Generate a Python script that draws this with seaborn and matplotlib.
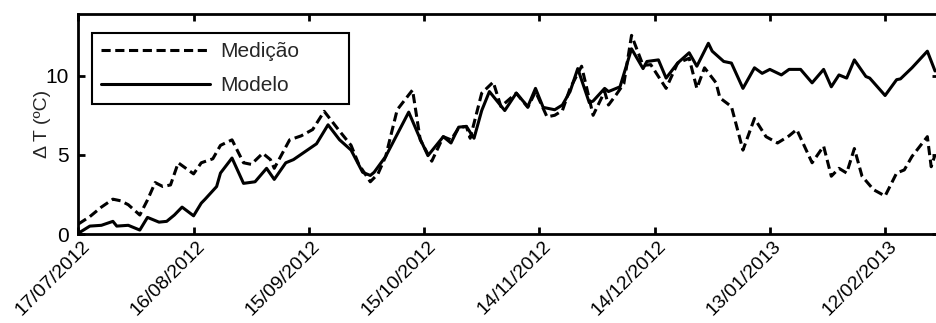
import matplotlib
matplotlib.use("Agg")
import numpy as np
import pandas as pd
import matplotlib.pyplot as plt
import matplotlib.transforms as mtransforms
import seaborn as sns

# dados (dias desde 17/07/2012)
inicio = "2012-07-17"

dias_medicao = [0, 3, 6, 9, 11, 13, 16, 18, 20, 22, 24, 26, 30, 32, 35, 37, 40, 43, 45,
                48, 50, 51, 55, 58, 61, 64, 68, 71, 73, 76, 78, 80, 83, 87, 89, 92, 95,
                97, 99, 101, 102, 105, 108, 110, 114, 117, 119, 122, 124, 126, 128, 131,
                134, 137, 138, 140, 142, 144, 147, 149, 153, 156, 159, 161, 163, 166,
                167, 170, 173, 176, 179, 182, 184, 185, 187, 191, 194, 196, 198, 200,
                202, 204, 207, 210, 213, 215, 217, 221, 222, 223]
medicao = [0.63, 1.1, 1.7, 2.2, 2.1, 1.85, 1.2, 2.15, 3.25, 3.0, 3.1, 4.5, 3.8, 4.5,
           4.75, 5.6, 5.95, 4.5, 4.4, 5.1, 4.7, 4.15, 5.95, 6.2, 6.6, 7.75, 6.5, 5.6,
           4.4, 3.3, 3.8, 4.9, 7.85, 9.1, 5.95, 4.6, 6.15, 5.95, 6.7, 6.8, 6.05, 8.9,
           9.6, 8.05, 8.9, 8.0, 9.0, 7.4, 7.5, 7.8, 9.2, 10.6, 7.5, 9.0, 8.15, 8.8, 9.5,
           12.55, 10.65, 10.7, 9.2, 10.8, 11.1, 9.2, 10.5, 9.55, 8.6, 8.05, 5.3, 7.3,
           6.15, 5.75, 6.05, 6.2, 6.6, 4.5, 5.55, 3.65, 4.15, 3.85, 5.4, 3.65, 2.8, 2.4,
           3.85, 4.05, 4.9, 6.15, 4.25, 5.0]

dias_modelo = [0, 3, 6, 9, 10, 13, 16, 18, 21, 23, 25, 27, 30, 32, 33, 36, 37, 40, 43,
               46, 49, 51, 54, 56, 59, 62, 65, 68, 71, 74, 76, 77, 80, 83, 86, 89, 91,
               95, 97, 99, 101, 103, 105, 107, 111, 114, 117, 119, 121, 124, 126, 128,
               130, 133, 134, 137, 138, 141, 144, 147, 148, 151, 153, 156, 159, 161,
               164, 165, 168, 170, 173, 176, 178, 180, 183, 185, 188, 191, 194, 196,
               198, 200, 202, 205, 206, 210, 213, 214, 217, 221, 223]
modelo = [0.05, 0.5, 0.55, 0.8, 0.5, 0.55, 0.25, 1.05, 0.75, 0.8, 1.2, 1.7, 1.15, 1.95,
          2.2, 3.0, 3.85, 4.8, 3.2, 3.3, 4.15, 3.45, 4.5, 4.7, 5.2, 5.7, 6.9, 5.95, 5.3,
          3.9, 3.7, 3.9, 4.9, 6.3, 7.7, 6.0, 4.95, 6.15, 5.75, 6.75, 6.8, 6.05, 7.8, 9.0,
          7.8, 8.9, 8.05, 9.2, 8.0, 7.85, 8.15, 9.0, 10.45, 8.3, 8.4, 9.2, 9.0, 9.3, 11.7,
          10.45, 10.9, 11.0, 9.85, 10.8, 11.45, 10.6, 12.05, 11.55, 10.9, 10.8, 9.2,
          10.5, 10.15, 10.4, 10.05, 10.4, 10.4, 9.55, 10.4, 9.3, 10.05, 9.85, 11.0, 9.95,
          9.85, 8.75, 9.75, 9.8, 10.5, 11.55, 10.3]

datas_ticks = ["17/07/2012", "16/08/2012", "15/09/2012", "15/10/2012",
               "14/11/2012", "14/12/2012", "13/01/2013", "12/02/2013"]
yticks = [0, 5, 10]

t0 = pd.Timestamp(inicio)
df_med = pd.DataFrame({"Data": t0 + pd.to_timedelta(dias_medicao, unit="D"), "dT": medicao})
df_mod = pd.DataFrame({"Data": t0 + pd.to_timedelta(dias_modelo, unit="D"), "dT": modelo})

sns.set_style("ticks")
plt.rcParams["font.family"] = ["Liberation Sans", "DejaVu Sans"]

fig, ax = plt.subplots(figsize=(9.37, 3.23), dpi=100)
fig.subplots_adjust(left=0.0836, right=1.002, bottom=0.2755, top=0.9567)

sns.lineplot(data=df_med, x="Data", y="dT", color="k", lw=2.2,
             linestyle=(0, (3, 1.5)), label="Medição", ax=ax)
sns.lineplot(data=df_mod, x="Data", y="dT", color="k", lw=2.2,
             label="Modelo", ax=ax)

ax.set_xlim(t0, t0 + pd.Timedelta(days=224))
ax.set_ylim(0, 13.9)

for sp in ax.spines.values():
    sp.set_visible(True)
    sp.set_linewidth(2)
    sp.set_color("k")
ax.tick_params(direction="in", length=5, width=2, top=True, right=True,
               labelsize=15, colors="k")
ax.tick_params(axis="x", pad=7)
ax.tick_params(axis="y", pad=7)

ax.set_yticks(yticks)
tick_pos = pd.to_datetime(datas_ticks, dayfirst=True)
ax.set_xticks(tick_pos)
ax.set_xticklabels(datas_ticks, rotation=45, ha="right", va="center",
                   rotation_mode="anchor", fontsize=14)
# desloca os rótulos de data um pouco para a direita, como no original
offset = mtransforms.ScaledTranslation(9 / 100, 0, fig.dpi_scale_trans)
for lab in ax.get_xticklabels():
    lab.set_transform(lab.get_transform() + offset)

ax.set_xlabel("")
ax.set_ylabel("Δ T (ºC)", fontsize=14, labelpad=-4)

leg = ax.legend(loc="upper left", bbox_to_anchor=(0.016, 0.914, 0.299, 0),
                mode="expand", borderaxespad=0, fontsize=15, handlelength=5.2,
                handletextpad=0.5, borderpad=0.45, labelspacing=0.7,
                fancybox=False, framealpha=1, edgecolor="k")
leg.get_frame().set_linewidth(1.5)

fig.savefig("out.png", dpi=100)
